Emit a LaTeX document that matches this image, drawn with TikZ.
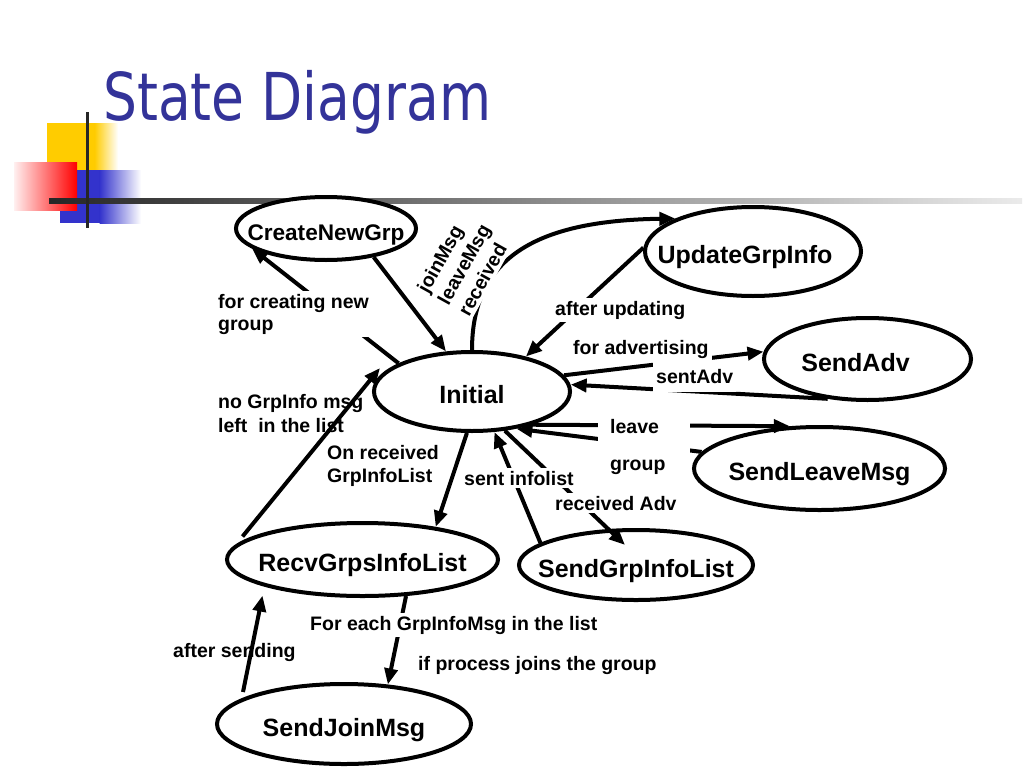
\documentclass[tikz,border=0pt]{standalone}
\usepackage{fontspec}
\setmainfont{Liberation Sans}
\newfontfamily\titlefont{DejaVu Sans}
\usetikzlibrary{shapes.geometric,arrows.meta}
\definecolor{yellowc}{HTML}{FFCC00}
\definecolor{bluec}{HTML}{3333CC}
\definecolor{titlec}{HTML}{333399}
\newcommand\cbx[1]{\makebox[0pt]{#1}}
\tikzset{
  st/.style={ellipse, draw, line width=4pt, fill=white, inner sep=0pt,
    font=\bfseries\fontsize{25}{30}\selectfont, text height=26pt, text depth=2pt},
  conn/.style={line width=4pt, -{Triangle[length=16pt,width=13pt]}},
  lab/.style={font=\bfseries\fontsize{19.5}{23}\selectfont, inner sep=3pt, anchor=base west},
  wlab/.style={lab, fill=white},
}
\begin{document}
\begin{tikzpicture}[x=1pt,y=-1pt]
\useasboundingbox (0,0) rectangle (1024,768);
\fill[white] (0,0) rectangle (1024,768);
% decoration
\fill[yellowc] (47,123) rectangle (95,172);
\shade[left color=yellowc, right color=white] (94.5,123) rectangle (118,172);
\fill[bluec] (60,170) rectangle (100,223);
\shade[left color=bluec, right color=white] (99.5,170) rectangle (141,223);
\shade[left color=red!6, right color=red] (14,162) rectangle (77,210);
\shade[left color=black!85, right color=black!8] (49,198) rectangle (1022,203);
\draw[line width=3pt, black!85] (87,112) -- (87,228);
% title
\node[anchor=base west, inner sep=0pt, text=titlec, font=\titlefont\fontsize{66}{70}\selectfont] (title) at (103,120) {\scalebox{0.81}[1]{State Diagram}};
% states
\node[st, minimum width=180pt, minimum height=63pt, font=\bfseries\fontsize{22.6}{27}\selectfont] (cng) at (326,228.5) {\cbx{CreateNewGrp}};
\node[st, minimum width=196pt, minimum height=79pt] (init) at (472,391.5) {\cbx{Initial}};
\node[st, minimum width=216pt, minimum height=89pt] (upd) at (753,251.5) {\cbx{UpdateGrpInfo\hspace{16pt}}};
\node[st, minimum width=207pt, minimum height=82pt] (adv) at (867.5,359) {\cbx{SendAdv\hspace{24pt}}};
\node[st, minimum width=251pt, minimum height=83pt] (lvm) at (819.5,468.5) {\cbx{SendLeaveMsg}};
\node[st, minimum width=234pt, minimum height=70pt] (sgil) at (636,565) {\cbx{SendGrpInfoList}};
\node[st, minimum width=271pt, minimum height=73pt] (rgil) at (362.5,559.5) {\cbx{RecvGrpsInfoList}};
\node[st, minimum width=254pt, minimum height=80pt] (sjm) at (344,724) {\cbx{SendJoinMsg}};
% labels under connectors
\node[lab] (lno) at (215,432) {\parbox[b]{160pt}{\raggedright\baselineskip=24pt no GrpInfo msg\\left~~in the list}};
\node[lab] (lon) at (324,482) {\parbox[b]{120pt}{\raggedright On received\\GrpInfoList}};
% connectors
\draw[conn] (init.159) -- (cng.-165);
\draw[conn] (cng.-31) -- (init.123);
\draw[conn] (init.90) .. controls +(0,-90) and +(-143,2) .. (upd.157);
\draw[conn] (upd.178) -- (init.33);
\draw[conn] (init.10) -- (adv.176);
\draw[conn] (adv.225) -- (init.4);
\draw[conn] (init.-29) -- (lvm.125);
\draw[conn] (lvm.172) -- (init.-40);
\draw[conn] (sgil.167) -- (init.-61);
\draw[conn] (init.-50) -- ([shift={(-11,-20)}]sgil.center);
\draw[conn] (init.-97) -- (rgil.24);
\draw[conn] ([shift={(-120,-23)}]rgil.center) -- ([shift={(-92,-23.5)}]init.center);
\draw[conn] (rgil.-40) -- (sjm.42);
\draw[conn] ([shift={(-101,-32)}]sjm.center) -- ([shift={(-100,36)}]rgil.center);
% labels over connectors
\node[wlab] (lcre) at (215,330) {\parbox[b]{158pt}{\raggedright\baselineskip=22pt for creating new\\group}};
\node[wlab, rotate=61] (ljm) at (426.5,297.5) {\parbox[t]{86pt}{\raggedright\baselineskip=23.5pt joinMsg\\leaveMsg\\received}};
\node[wlab] (lupd) at (552,315) {after updating};
\node[wlab, inner ysep=9pt] (lsa) at (653,383) {sentAdv};
\node[wlab] (ladv) at (570,354) {for advertising};
\node[wlab] (llg) at (598,470) {\parbox[b]{86pt}{\raggedright\hspace*{9pt}leave\\[14pt]\hspace*{9pt}group}};
\node[wlab] (lsi) at (461,485) {sent infolist};
\node[wlab] (lra) at (552,510) {received Adv};
\node[wlab] (lfe) at (307,630) {For each GrpInfoMsg in the list};
\node[lab] (lif) at (415,670) {if process joins the group};
\node[lab] (las) at (170,657) {after sending};
\end{tikzpicture}
\end{document}
